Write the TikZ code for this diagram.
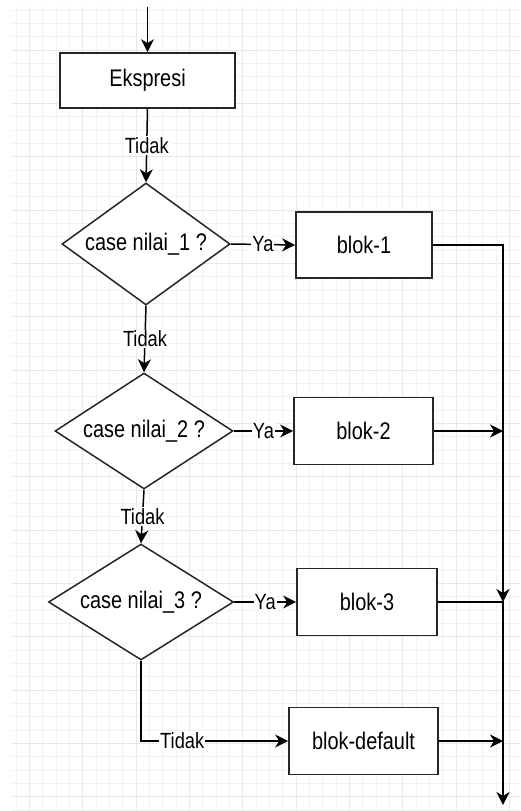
\documentclass[tikz,border=0pt]{standalone}
\usepackage{fontspec}
\setmainfont{Liberation Sans}[FakeStretch=0.83]
\usetikzlibrary{shapes.geometric,arrows.meta}
\begin{document}
\begin{tikzpicture}[x=1pt,y=-1pt,
  box/.style={draw=black!85, line width=1.7pt, fill=white, inner sep=0pt,
    font=\fontsize{24}{27}\selectfont},
  dec/.style={draw=black!85, line width=1.5pt, fill=white, shape=diamond,
    shape aspect=1.4, inner sep=0pt, font=\fontsize{24}{27}\selectfont},
  conn/.style={line width=1.5pt, draw=black},
  arr/.style={conn, -{Stealth[length=13pt,width=13pt,inset=4pt]}},
  lbl/.style={fill=white, inner sep=1pt, font=\fontsize{22}{25}\selectfont},
  gridminor/.style={draw=black!5, line width=0.8pt},
  gridmajor/.style={draw=black!9, line width=0.9pt}
]
\useasboundingbox (0,0) rectangle (520,811);
\fill[white] (0,0) rectangle (520,811);
% background grid
\foreach \i in {0,...,37} \draw[gridminor] ({16+13.333*\i},7) -- (16+13.333*\i,811);
\foreach \j in {0,...,60} \draw[gridminor] (12,{10+13.333*\j}) -- (520,{10+13.333*\j});
\foreach \i in {0,...,9} \draw[gridmajor] ({29.33+53.333*\i},7) -- ({29.33+53.333*\i},811);
\foreach \j in {0,...,14} \draw[gridmajor] (12,{50+53.333*\j}) -- (520,{50+53.333*\j});

% nodes
\coordinate (start) at (147.5,7);
\coordinate (rail) at (503,0);
\coordinate (railend) at (503,805);
\node[box, minimum width=175pt, minimum height=55pt] (eks) at (147.5,80.5) {Ekspresi};
\node[dec, minimum width=168pt, minimum height=122pt] (d1) at (146,244) {case nilai\_1 ?};
\node[dec, minimum width=178pt, minimum height=116pt] (d2) at (144,431) {case nilai\_2 ?};
\node[dec, minimum width=185pt, minimum height=116pt] (d3) at (141,602) {case nilai\_3 ?};
\node[box, minimum width=136pt, minimum height=66pt] (b1) at (364,245) {blok-1};
\node[box, minimum width=139pt, minimum height=67pt] (b2) at (363.5,431) {blok-2};
\node[box, minimum width=140pt, minimum height=67pt] (b3) at (367,602) {blok-3};
\node[box, minimum width=149pt, minimum height=67pt] (bd) at (363.5,741) {blok-default};

% connectors
\draw[arr] (start) -- (eks.north);
\draw[arr] (eks.south) -- node[lbl] (t0) {Tidak} (d1.north);
\draw[arr] (d1.south) -- node[lbl] (t1) {Tidak} (d2.north);
\draw[arr] (d2.south) -- node[lbl] (t2) {Tidak} (d3.north);
\draw[arr] (d3.south) |- node[lbl, pos=0.64] (t3) {Tidak} (bd.west);
\draw[arr] (d1.east) -- node[lbl] (y1) {Ya} (b1.west);
\draw[arr] (d2.east) -- node[lbl] (y2) {Ya} (b2.west);
\draw[arr] (d3.east) -- node[lbl] (y3) {Ya} (b3.west);
\draw[arr] (b1.east) -| (b3.east -| rail);
\draw[arr] (b2.east) -- (b2.east -| rail);
\draw[arr] (b3.east) -| (railend);
\draw[arr] (bd.east) -- (bd.east -| rail);
\end{tikzpicture}
\end{document}
